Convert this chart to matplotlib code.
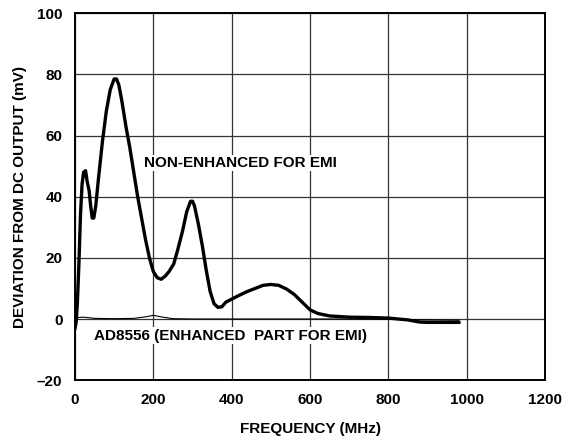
import matplotlib
matplotlib.use("Agg")
import matplotlib.pyplot as plt

plt.rcParams['font.family'] = ['Liberation Sans', 'DejaVu Sans']
plt.rcParams['font.weight'] = 'bold'

# Non-enhanced part (MHz, mV)
freq_main = [0, 3, 6, 10, 14, 18, 22, 27, 31, 36, 40, 44, 48, 53, 60, 70, 80, 90, 100, 106,
             112, 120, 130, 140, 150, 160, 170, 180, 190, 200, 210, 220, 230, 240, 252, 262,
             275, 285, 295, 300, 305, 315, 325, 335, 345, 355, 365, 375, 385, 400, 420, 440,
             460, 480, 500, 520, 540, 560, 580, 600, 620, 650, 700, 750, 800, 850, 880, 900,
             950, 980]
dev_main = [-3, -1, 5, 18, 34, 44, 48, 48.5, 45, 42, 37, 33, 33, 37, 46, 58, 68, 75, 78.5, 78.5,
            76.5, 71, 63, 56, 48, 40, 33, 26, 20, 15.5, 13.5, 13, 14, 15.5, 18, 22.5,
            29, 35, 38.5, 38.5, 37, 31, 24, 16, 9, 5, 3.8, 4, 5.5, 6.5, 7.8, 9,
            10, 11, 11.3, 11, 9.8, 8, 5.5, 3, 1.8, 1, 0.6, 0.5, 0.3, -0.3, -1, -1.1,
            -1.1, -1.1]

# AD8556 enhanced part
freq_enh = [0, 10, 20, 30, 50, 100, 150, 180, 200, 220, 250, 300, 400, 500, 600, 700, 800, 900, 980]
dev_enh = [0, 0.5, 0.6, 0.5, 0.2, 0.1, 0.2, 0.7, 1.2, 0.7, 0.1, 0, 0, 0, 0, 0, -0.1, -0.3, -0.4]

xticks = [0, 200, 400, 600, 800, 1000, 1200]
yticks = [-20, 0, 20, 40, 60, 80, 100]
ytick_labels = ['–20', '0', '20', '40', '60', '80', '100']

FS = 11

fig = plt.figure(figsize=(5.66, 4.40), dpi=100)
ax = fig.add_axes([0.1325, 0.136, 0.8305, 0.834])

ax.plot(freq_main, dev_main, color='black', lw=2.4, solid_joinstyle='round', zorder=3)
ax.plot(freq_enh, dev_enh, color='black', lw=0.8, zorder=3)

ax.set_xlim(0, 1200)
ax.set_ylim(-20, 100)
ax.set_xticks(xticks)
ax.set_yticks(yticks)
ax.set_xticklabels([str(t) for t in xticks])
ax.set_yticklabels(ytick_labels)
ax.grid(True, color='#333333', lw=0.9)
ax.set_axisbelow(True)
ax.tick_params(length=0, labelsize=FS, pad=9)
for lab in ax.get_xticklabels() + ax.get_yticklabels():
    lab.set_fontweight('bold')
for s in ax.spines.values():
    s.set_linewidth(1.4)

ax.set_xlabel('FREQUENCY (MHz)', fontsize=FS, fontweight='bold', labelpad=11)
ax.set_ylabel('DEVIATION FROM DC OUTPUT (mV)', fontsize=FS, fontweight='bold', labelpad=7)

bb = dict(facecolor='white', edgecolor='none', pad=1.0)
ax.text(176, 51, 'NON-ENHANCED FOR EMI', fontsize=FS, fontweight='bold',
        va='center', ha='left', bbox=bb, zorder=4)
ax.text(49, -5.5, 'AD8556 (ENHANCED  PART FOR EMI)', fontsize=FS, fontweight='bold',
        va='center', ha='left', bbox=bb, zorder=4)

fig.savefig('out.png', dpi=100)
